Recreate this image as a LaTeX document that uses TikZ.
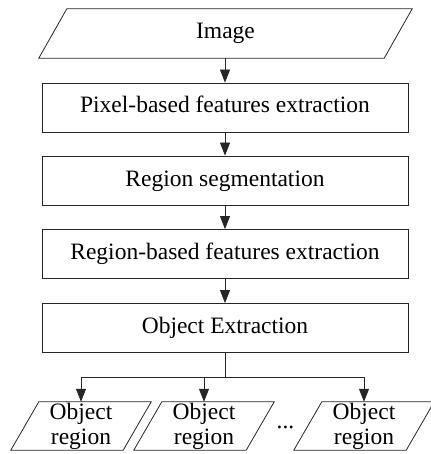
\documentclass[tikz,border=0pt]{standalone}
\usepackage{fontspec}
\setmainfont{Liberation Serif}
\usetikzlibrary{arrows.meta}
\newcommand\parashape[1]{\draw[edge] ([xshift=14pt]#1.north west) -- ([xshift=14pt]#1.north east) -- ([xshift=-14pt]#1.south east) -- ([xshift=-14pt]#1.south west) -- cycle;}
\begin{document}
\begin{tikzpicture}[x=1pt,y=-1pt,
  edge/.style={draw=black!85, line width=0.8pt},
  arr/.style={edge, -{Triangle[length=13pt,width=10pt]}},
  txt/.style={font=\fontsize{23.5}{25}\selectfont, inner sep=0pt},
  procbox/.style={txt, draw=black!85, line width=0.8pt, minimum width=366pt, minimum height=49pt, text height=16pt, text depth=5pt},
  pnode/.style={txt, align=center, minimum height=48pt, minimum width=112pt}]
\useasboundingbox (0,0) rectangle (430,454);
\node[txt, minimum width=345pt, minimum height=49pt] (img) at (225.5,33.5) {Image};
\parashape{img}
\node[procbox] (b1) at (225,107.5) {Pixel-based features extraction};
\node[procbox] (b2) at (225,180.5) {Region segmentation};
\node[procbox] (b3) at (225,254) {Region-based features extraction};
\node[procbox] (b4) at (225,328) {Object Extraction};
\node[pnode] (o1) at (81,426) {Object\\region};
\node[pnode] (o2) at (204,426) {Object\\region};
\node[pnode] (o3) at (364,426) {Object\\region};
\parashape{o1}
\parashape{o2}
\parashape{o3}
\node[txt, anchor=base] (dots) at (285.5,428) {...};
\draw[arr] (img.south -| b1.north) -- (b1.north);
\draw[arr] (b1) -- (b2);
\draw[arr] (b2) -- (b3);
\draw[arr] (b3) -- (b4);
\coordinate (j) at (225,377);
\draw[edge] (b4.south) -- (j);
\draw[arr] (j) -| (o1.north);
\draw[arr] (j) -| (o3.north);
\draw[arr] (j -| o2.north) -- (o2.north);
\end{tikzpicture}
\end{document}
